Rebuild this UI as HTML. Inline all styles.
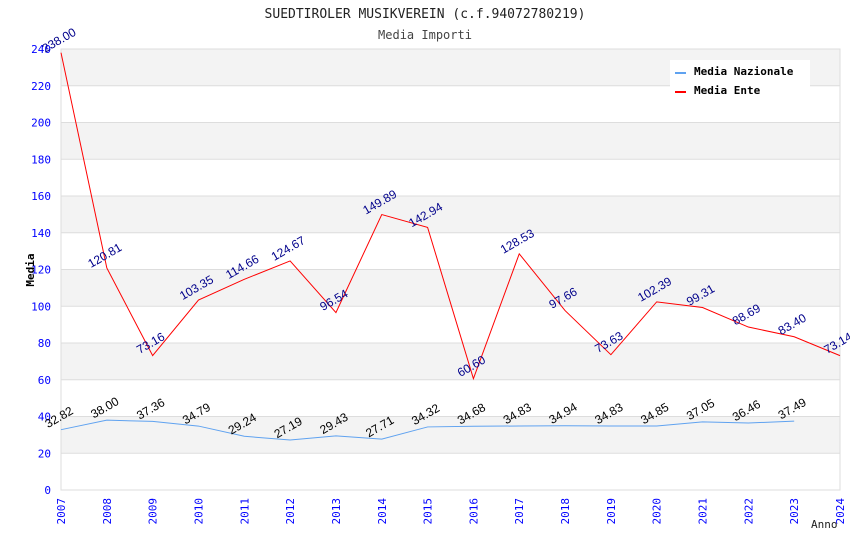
<!DOCTYPE html>
<html><head><meta charset="utf-8"><style>
body{margin:0;background:#fff;width:850px;height:550px;overflow:hidden}
svg text{font-family:"DejaVu Sans Mono","Liberation Mono",monospace}
svg text.val{font-family:"Liberation Sans",sans-serif}
</style></head><body>
<svg id="c" width="850" height="550"></svg>
<script>
const years=[2007,2008,2009,2010,2011,2012,2013,2014,2015,2016,2017,2018,2019,2020,2021,2022,2023,2024];
const ente=[238.00,120.81,73.16,103.35,114.66,124.67,96.54,149.89,142.94,60.60,128.53,97.66,73.63,102.39,99.31,88.69,83.40,73.14];
const naz=[32.82,38.00,37.36,34.79,29.24,27.19,29.43,27.71,34.32,34.68,34.83,34.94,34.83,34.85,37.05,36.46,37.49];
const yTicks=[0,20,40,60,80,100,120,140,160,180,200,220,240];
const L=61,R=840,T=49,B=490;
const X=i=>L+(R-L)*i/(years.length-1);
const Y=v=>B-(B-T)*v/240;
const s=document.getElementById('c');const NS='http://www.w3.org/2000/svg';
function mk(t,a,txt){const e=document.createElementNS(NS,t);for(const k in a)e.setAttribute(k,a[k]);if(txt!=null)e.textContent=txt;s.appendChild(e);return e;}
let e;
for(let i=0;i<yTicks.length-1;i++){
 e=mk('rect',{x:L,y:Y(yTicks[i+1]),width:R-L,height:Y(yTicks[i])-Y(yTicks[i+1]),fill:i%2?'#f3f3f3':'#fff'});
 
 
}
yTicks.forEach(v=>{
 e=mk('line',{x1:L,x2:R,y1:Y(v),y2:Y(v),stroke:'#ddd'});
 
 
 e=mk('text',{x:L-10,y:Y(v)+4,'text-anchor':'end','font-size':11,fill:'#00f'},v);
 
 
});
e=mk('rect',{x:L,y:T,width:R-L,height:B-T,fill:'none',stroke:'#ddd'});


years.forEach((y,i)=>{
 const x=X(i);
 e=mk('text',{x:x+4,y:B+8,'text-anchor':'end','font-size':11,fill:'#00f',transform:`rotate(-90 ${x+4} ${B+8})`},y);
 
 
});
function series(d,col,lc,name){
 const p=d.map((v,i)=>X(i)+','+Y(v)).join(' ');
 e=mk('polyline',{points:p,fill:'none',stroke:col,'stroke-width':1});
 
 
 d.forEach((v,i)=>{
  const x=X(i),y=Y(v)-9;
  e=mk('text',{x:x,y:y,'text-anchor':'middle','font-size':12,fill:lc,'class':'val',transform:`rotate(-30 ${x} ${y})`},v.toFixed(2));
  
  
 });
}
series(naz,'#5fa2f0','#000','media-nazionale');
series(ente,'#f00','#00008b','media-ente');
e=mk('text',{x:425,y:18,'text-anchor':'middle','font-size':13,fill:'#222'},'SUEDTIROLER MUSIKVEREIN (c.f.94072780219)');


e=mk('text',{x:425,y:39,'text-anchor':'middle','font-size':12,fill:'#444'},'Media Importi');


e=mk('text',{x:34,y:270,'text-anchor':'middle','font-size':11,'font-weight':'bold',fill:'#000',transform:'rotate(-90 34 270)'},'Media');


e=mk('text',{x:811,y:528,'font-size':11,fill:'#222'},'Anno');


e=mk('rect',{x:670,y:60,width:140,height:54,fill:'#fff'});


[['Media Nazionale','#5fa2f0',72],['Media Ente','#f00',91]].forEach(([t,c,y])=>{
 e=mk('line',{x1:675,x2:686,y1:y+1,y2:y+1,stroke:c,'stroke-width':2});
 
 
 e=mk('text',{x:694,y:y+3,'font-size':11,'font-weight':'bold',fill:'#000'},t);
 
 
});
</script>
</body></html>
